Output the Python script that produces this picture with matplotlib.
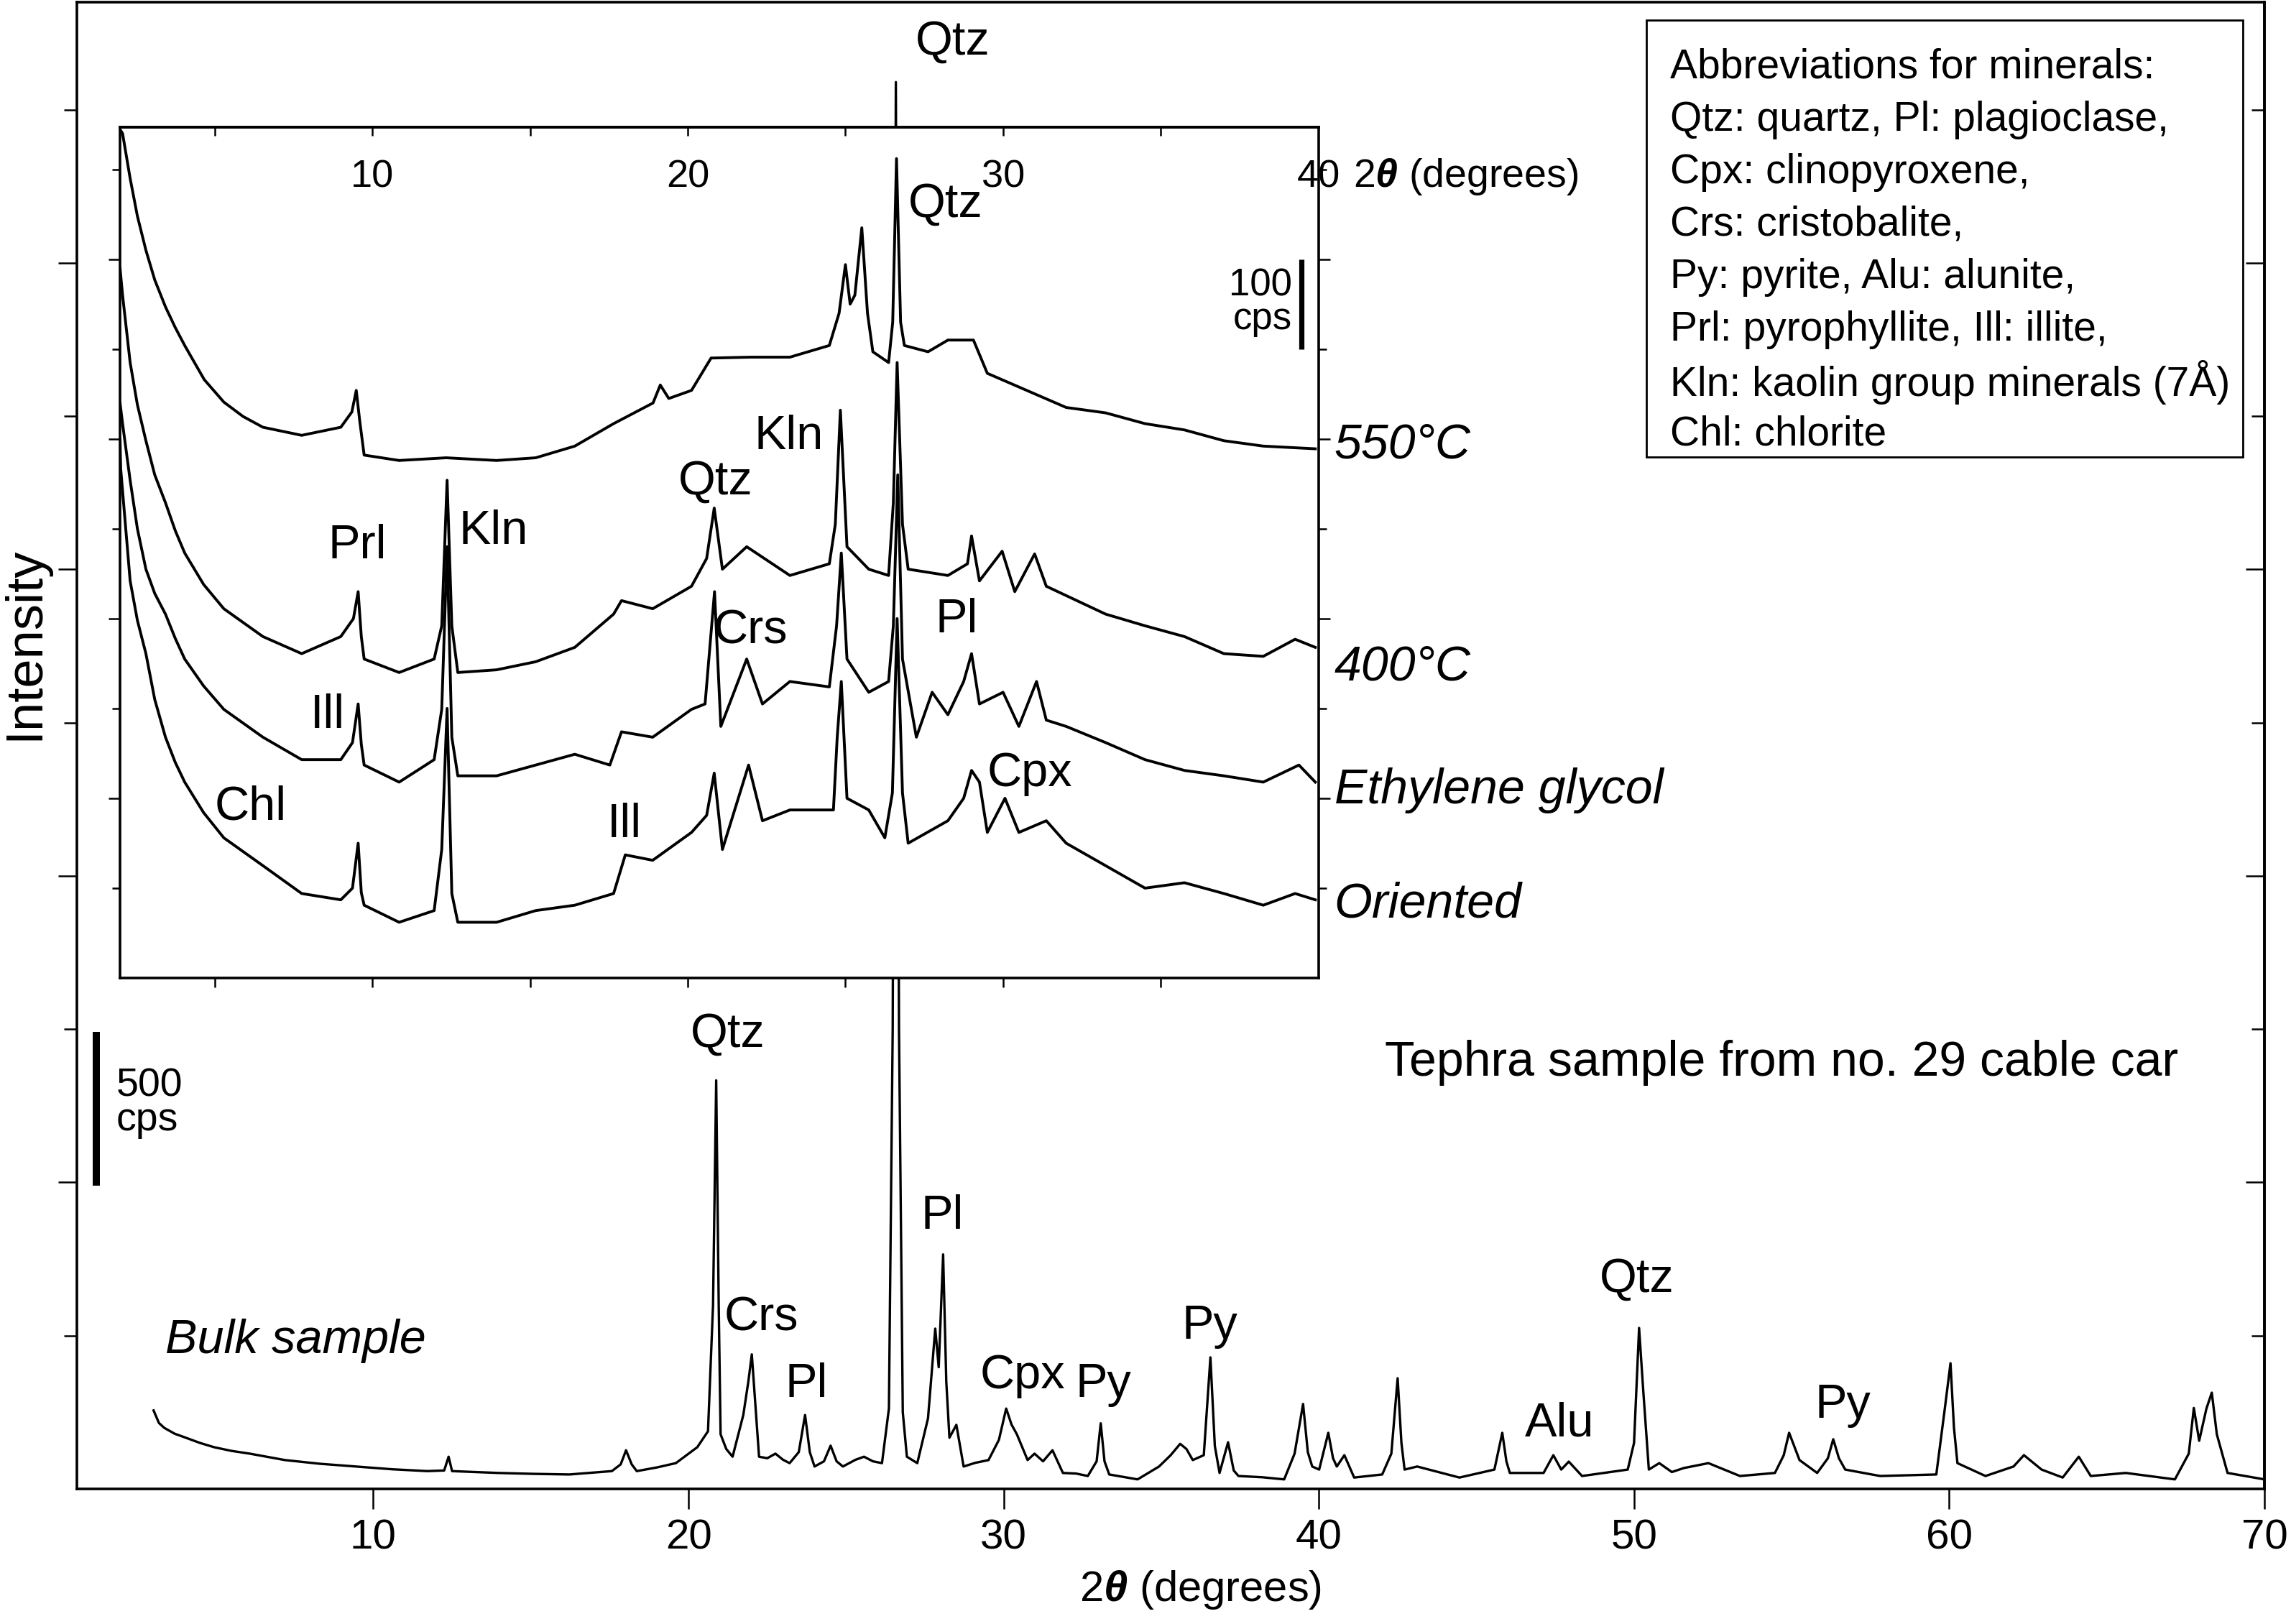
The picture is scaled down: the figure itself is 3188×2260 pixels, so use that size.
import matplotlib
matplotlib.use("Agg")
import matplotlib.pyplot as plt
import matplotlib.transforms as mtransforms
from matplotlib.patches import Rectangle

plt.rcParams['font.family'] = ['Liberation Sans', 'DejaVu Sans']
plt.rcParams['mathtext.fontset'] = 'custom'
plt.rcParams['mathtext.rm'] = 'Liberation Sans'
plt.rcParams['mathtext.it'] = 'Liberation Sans:italic'
plt.rcParams['mathtext.bf'] = 'Liberation Sans:bold'
plt.rcParams['mathtext.bfit'] = 'Liberation Sans:italic:bold'

# ---- bulk sample (main axes), 2theta in degrees, intensity in cps ----
bulk_tt = [3.03, 3.2, 3.37, 3.7, 4.05, 4.5, 4.95, 5.5, 6.08, 7.2, 8.3, 9.46, 10.6, 11.71, 12.25, 12.39, 12.5,
           13.96, 15.1, 16.22, 17.57, 17.85, 18.02, 18.2, 18.36, 19.0, 19.6, 20.28, 20.62, 20.78, 20.88, 20.96,
           21.02, 21.2, 21.4, 21.74, 21.9, 22.01, 22.12, 22.24, 22.5, 22.76, 23.0, 23.21, 23.5, 23.7, 23.85,
           24.0, 24.3, 24.51, 24.7, 24.9, 25.3, 25.57, 25.85, 26.14, 26.36, 26.48, 26.58, 26.68, 26.8, 26.93,
           27.26, 27.6, 27.83, 27.94, 28.08, 28.18, 28.28, 28.5, 28.73, 29.1, 29.52, 29.85, 30.08, 30.25, 30.42,
           30.76, 30.98, 31.25, 31.55, 31.88, 32.3, 32.67, 32.95, 33.08, 33.2, 33.35, 34.25, 34.93, 35.3, 35.6,
           35.8, 36.0, 36.35, 36.56, 36.7, 36.85, 37.12, 37.3, 37.45, 38.2, 38.9, 39.23, 39.5, 39.65, 39.79,
           40.01, 40.3, 40.45, 40.57, 40.81, 41.12, 42.01, 42.3, 42.5, 42.62, 42.72, 43.12, 44.46, 45.57, 45.82,
           45.95, 46.06, 47.13, 47.44, 47.69, 47.93, 48.35, 49.8, 50.0, 50.16, 50.29, 50.47, 50.8, 51.2, 51.58,
           52.36, 53.36, 54.47, 54.75, 54.92, 55.25, 55.81, 56.15, 56.32, 56.5, 56.7, 57.81, 59.59, 59.86, 60.04,
           60.15, 60.26, 61.15, 62.04, 62.37, 62.93, 63.6, 64.11, 64.49, 65.6, 67.16, 67.6, 67.76, 67.93, 68.16,
           68.33, 68.49, 68.83, 70.0]
bulk_cps = [256, 215, 199, 180, 167, 150, 136, 124, 115, 94, 82, 73, 64, 58, 60, 105, 58,
            52, 49, 47, 58, 80, 126, 80, 58, 70, 84, 136, 188, 600, 1333, 600,
            178, 130, 105, 241, 350, 439, 280, 105, 100, 115, 95, 84, 120, 241, 120,
            73, 90, 141, 90, 73, 95, 105, 90, 84, 262, 1500, 4590, 1500, 250, 105,
            84, 230, 523, 397, 765, 350, 167, 209, 73, 85, 94, 160, 262, 210, 178,
            94, 115, 90, 126, 52, 50, 42, 90, 214, 90, 47, 31, 73, 110, 147,
            130, 94, 110, 429, 140, 52, 152, 60, 42, 38, 31, 115, 277, 120, 73,
            63, 183, 100, 73, 110, 37, 47, 115, 361, 150, 63, 73, 37, 63, 183,
            90, 52, 52, 110, 63, 89, 42, 63, 150, 525, 324, 63, 84, 55, 68,
            84, 42, 52, 110, 183, 94, 52, 100, 162, 100, 63, 42, 47, 262, 410,
            200, 84, 42, 73, 110, 63, 37, 105, 42, 52, 31, 115, 264, 157, 262,
            314, 178, 52, 31]

# ---- clay fraction (inset), offset traces in cps ----
t550_tt = [1.95, 2.08, 2.32, 2.55, 2.82, 3.1, 3.44, 3.75, 4.05, 4.67, 5.29, 5.9, 6.53, 7.76, 9.0, 9.35, 9.49,
           9.6, 9.74, 10.85, 12.34, 13.94, 15.18, 16.42, 17.65, 18.9, 19.13, 19.4, 20.12, 20.74, 21.99, 23.24,
           24.49, 24.8, 25.0, 25.15, 25.3, 25.52, 25.7, 25.87, 26.37, 26.5, 26.62, 26.75, 26.87, 27.62, 28.25,
           29.06, 29.5, 30.75, 32.0, 33.25, 34.5, 35.75, 37.0, 38.25, 39.9]
t550_cps = [947, 940, 890, 848, 810, 777, 747, 724, 704, 666, 641, 625, 613, 604, 613, 630, 654,
            620, 582, 576, 579, 576, 579, 592, 617, 640, 660, 645, 654, 690, 691, 691,
            704, 740, 794, 750, 760, 835, 740, 697, 685, 730, 912, 730, 704, 697, 710,
            710, 673, 654, 635, 629, 617, 610, 598, 592, 589]

t400_tt = [2.0, 2.08, 2.32, 2.55, 2.82, 3.1, 3.44, 3.75, 4.05, 4.65, 5.29, 6.53, 7.76, 9.0, 9.4, 9.55, 9.65,
           9.74, 10.85, 11.96, 12.2, 12.37, 12.52, 12.71, 13.94, 15.18, 16.42, 17.65, 17.9, 18.89, 20.12, 20.6,
           20.84, 21.1, 21.87, 23.24, 24.49, 24.68, 24.84, 25.05, 25.74, 26.37, 26.52, 26.64, 26.81, 26.99,
           28.25, 28.87, 29.0, 29.25, 29.97, 30.37, 31.0, 31.37, 33.25, 34.5, 35.75, 37.0, 38.25, 39.26, 39.9]
t400_cps = [790, 760, 685, 638, 598, 560, 529, 498, 473, 438, 411, 380, 361, 380, 400, 430, 380,
            355, 340, 355, 392, 554, 392, 340, 343, 352, 368, 405, 420, 411, 436, 467,
            523, 455, 480, 448, 461, 505, 632, 480, 455, 448, 529, 685, 505, 455,
            448, 461, 492, 442, 475, 430, 472, 436, 405, 392, 380, 361, 358, 377, 368]

teg_tt = [2.0, 2.08, 2.32, 2.55, 2.82, 3.1, 3.44, 3.75, 4.05, 4.65, 5.29, 6.53, 7.76, 9.0, 9.37, 9.55, 9.65,
          9.74, 10.85, 11.96, 12.2, 12.37, 12.52, 12.71, 13.94, 15.18, 16.42, 17.53, 17.9, 18.89, 20.12, 20.55,
          20.85, 21.05, 21.87, 22.37, 23.24, 24.49, 24.72, 24.87, 25.05, 25.74, 26.37, 26.52, 26.66, 26.81,
          27.25, 27.75, 28.25, 28.75, 29.0, 29.25, 30.0, 30.5, 31.06, 31.37, 32.0, 33.25, 34.5, 35.75, 37.0,
          38.25, 39.38, 39.9]
teg_cps = [640, 617, 554, 500, 455, 428, 405, 378, 355, 325, 299, 268, 243, 243, 262, 305, 260,
           237, 218, 243, 299, 480, 268, 225, 225, 237, 249, 237, 274, 268, 299, 305,
           430, 280, 355, 305, 330, 324, 392, 473, 355, 318, 330, 392, 560, 355,
           268, 318, 293, 330, 361, 305, 318, 280, 330, 287, 280, 262, 243, 231, 225,
           218, 237, 218]

tori_tt = [2.0, 2.02, 2.32, 2.55, 2.82, 3.1, 3.44, 3.75, 4.05, 4.65, 5.29, 6.53, 7.76, 9.0, 9.37, 9.55, 9.65,
           9.74, 10.85, 11.96, 12.2, 12.37, 12.52, 12.71, 13.94, 15.18, 16.42, 17.65, 18.02, 18.89, 20.12, 20.6,
           20.84, 21.1, 21.93, 22.37, 23.24, 24.62, 24.74, 24.87, 25.05, 25.74, 26.25, 26.49, 26.64, 26.81,
           26.99, 28.25, 28.75, 29.0, 29.25, 29.5, 30.06, 30.5, 31.37, 32.0, 33.25, 34.5, 35.75, 37.0, 38.25,
           39.26, 39.9]
tori_cps = [600, 567, 442, 398, 361, 310, 268, 240, 218, 184, 156, 125, 94, 87, 100, 150, 95,
            81, 62, 75, 143, 300, 94, 62, 62, 75, 81, 94, 137, 131, 162, 181,
            228, 143, 237, 175, 187, 187, 268, 330, 200, 187, 156, 206, 400, 206,
            150, 175, 200, 231, 218, 162, 200, 162, 175, 150, 125, 100, 106, 94, 81,
            94, 87]

# peak labels: (text, 2theta, cps)
bulk_labels = [('Qtz', 21.24, 1482), ('Crs', 22.32, 557), ('Pl', 23.75, 340), ('Pl', 28.06, 888),
               ('Cpx', 30.61, 368), ('Py', 33.16, 340), ('Py', 36.55, 529), ('Alu', 47.63, 211),
               ('Qtz', 50.09, 682), ('Py', 56.63, 272)]
clay_labels = [('Prl', 9.52, 481), ('Kln', 13.83, 497), ('Qtz', 20.88, 552), ('Kln', 23.2, 602),
               ('Crs', 21.99, 386), ('Pl', 28.53, 398), ('Ill', 8.59, 292), ('Chl', 6.14, 190),
               ('Ill', 18.0, 170), ('Cpx', 30.85, 227)]
trace_names = ['550°C', '400°C', 'Ethylene glycol', 'Oriented']
trace_label_cps = [593, 346, 209, 82]

legend_lines = ['Abbreviations for minerals:',
                'Qtz: quartz, Pl: plagioclase,',
                'Cpx: clinopyroxene,',
                'Crs: cristobalite,',
                'Py: pyrite, Alu: alunite,',
                'Prl: pyrophyllite, Ill: illite,',
                'Kln: kaolin group minerals (7Å)',
                'Chl: chlorite']

fig = plt.figure(figsize=(15.94, 11.3), dpi=200)
ax = fig.add_axes([0.0336, 0.0832, 0.9548, 0.9153])

ax.plot(bulk_tt, bulk_cps, color='black', linewidth=1.2)
ax.set_xlim(0.6, 70)
ax.set_ylim(0, 4850)
ax.set_xticks([10, 20, 30, 40, 50, 60, 70])
ax.tick_params(axis='x', direction='out', length=10, width=0.9, labelsize=21, pad=5)
ax.set_yticks([1000, 2000, 3000, 4000])
ax.set_yticks([500, 1500, 2500, 3500, 4500], minor=True)
ax.set_yticklabels([])
ax.tick_params(axis='y', which='major', direction='out', length=9.5, width=0.9)
ax.tick_params(axis='y', which='minor', direction='out', length=6.5, width=0.9)
for sp in ax.spines.values():
    sp.set_linewidth(1.3)

# right side ticks point inward
sec = ax.secondary_yaxis('right')
sec.set_yticks([1000, 2000, 3000, 4000])
sec.set_yticks([500, 1500, 2500, 3500, 4500], minor=True)
sec.set_yticklabels([])
sec.tick_params(axis='y', which='major', direction='in', length=9.5, width=0.9)
sec.tick_params(axis='y', which='minor', direction='in', length=6.5, width=0.9)
sec.spines['right'].set_linewidth(1.3)

fig.text(0.524, 0.021, r'2$\mathbfit{\theta}$ (degrees)', ha='center', va='center', fontsize=21.5)
fig.text(0.011, 0.604, 'Intensity', rotation=90, ha='center', va='center', fontsize=26)

for txt, x, y in bulk_labels:
    ax.text(x, y, txt, ha='center', va='center', fontsize=24)
ax.text(27.2, 4720, 'Qtz', ha='left', va='center', fontsize=24)
ax.text(3.4, 482, 'Bulk sample', ha='left', va='center', fontsize=24, style='italic')
ax.text(42.1, 1391, 'Tephra sample from no. 29 cable car', ha='left', va='center', fontsize=24.5)

# 500 cps scale bar
ax.plot([1.22, 1.22], [990, 1490], color='black', linewidth=3.6, solid_capstyle='butt')
ax.text(1.85, 1258, '500\ncps', ha='left', va='center', fontsize=20, linespacing=0.9)

# abbreviations box
fig.patches.append(Rectangle((0.7186, 0.7186), 0.2604, 0.269, transform=fig.transFigure,
                             fill=False, edgecolor='black', linewidth=1.0))
for i, line in enumerate(legend_lines):
    fig.text(0.729, 0.9586 - i * 0.0323, line, ha='left', va='center', fontsize=20.5)

# ---- inset ----
ins = fig.add_axes([0.0524, 0.3978, 0.5231, 0.5239], facecolor='white')
for tt, cps in [(t550_tt, t550_cps), (t400_tt, t400_cps), (teg_tt, teg_cps), (tori_tt, tori_cps)]:
    ins.plot(tt, cps, color='black', linewidth=1.4)
ins.set_xlim(2, 40)
ins.set_ylim(0, 947)
ins.set_xticks([5, 10, 15, 20, 25, 30, 35])
ins.set_xticklabels([])
ins.tick_params(axis='x', direction='out', length=4.7, width=0.9)
ins.set_yticks([200, 400, 600, 800])
ins.set_yticks([100, 300, 500, 700, 900], minor=True)
ins.set_yticklabels([])
ins.tick_params(axis='y', which='major', direction='out', left=True, right=True, length=5.8, width=0.9)
ins.tick_params(axis='y', which='minor', direction='out', left=True, right=True, length=4.0, width=0.9)
for sp in ins.spines.values():
    sp.set_linewidth(1.3)

top = ins.secondary_xaxis('top')
top.set_xticks([5, 10, 15, 20, 25, 30, 35])
top.set_xticklabels([])
top.tick_params(axis='x', direction='in', length=4.3, width=0.9)
top.spines['top'].set_linewidth(1.3)

blend = mtransforms.blended_transform_factory(ins.transData, ins.transAxes)
for v in [10, 20, 30, 40]:
    ins.text(v, 0.9415, str(v), transform=blend, ha='center', va='center', fontsize=19.5, clip_on=False)
ins.text(41.1, 0.9415, r'2$\mathbfit{\theta}$ (degrees)', transform=blend, ha='left', va='center',
         fontsize=20, clip_on=False)

for txt, x, y in clay_labels:
    ins.text(x, y, txt, ha='center', va='center', fontsize=24)
ins.text(27.0, 861, 'Qtz', ha='left', va='center', fontsize=24)
for name, y in zip(trace_names, trace_label_cps):
    ins.text(40.5, y, name, ha='left', va='center', fontsize=24.5, style='italic', clip_on=False)

# 100 cps scale bar
ins.plot([39.46, 39.46], [700, 800], color='black', linewidth=2.6, solid_capstyle='butt')
ins.text(39.15, 752, '100\ncps', ha='right', va='center', fontsize=19, linespacing=0.9)

fig.savefig('out.png', dpi=200)
